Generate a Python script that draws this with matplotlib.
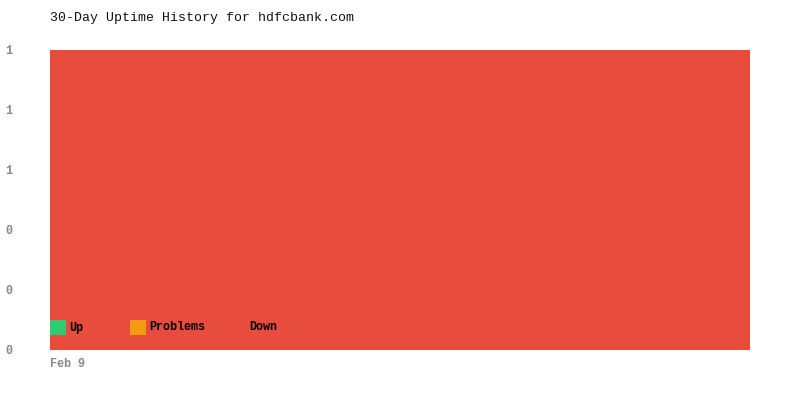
import datetime as dt
import matplotlib
matplotlib.use("Agg")
import matplotlib.pyplot as plt
from matplotlib.patches import Rectangle

# 30 days of status share per day
start_day = dt.date(2025, 2, 9)
n_days = 30
up = [0] * n_days
problems = [0] * n_days
down = [1] * n_days
series_names = ["Up", "Problems", "Down"]
series_colors = ["#2ecc71", "#f39c12", "#e74c3c"]
y_ticks = [0, 0.2, 0.4, 0.6, 0.8, 1.0]

plt.rcParams['font.family'] = ['Liberation Mono', 'DejaVu Sans Mono']

fig = plt.figure(figsize=(8, 4), dpi=100)
ax = fig.add_axes([50 / 800, 50 / 400, 700 / 800, 300 / 400])

days = list(range(n_days))
bottom = [0] * n_days
for vals, color in zip([up, problems, down], series_colors):
    ax.bar(days, vals, width=1.0, align='edge', bottom=bottom, color=color,
           linewidth=0, zorder=2)
    bottom = [b + v for b, v in zip(bottom, vals)]

ax.set_xlim(0, n_days)
ax.set_ylim(0, 1)
ax.set_yticks(y_ticks)
ax.set_yticklabels([f"{v:.0f}" for v in y_ticks])
ax.set_xticks([0])
ax.set_xticklabels([start_day.strftime("%b ") + str(start_day.day)])
for lab in ax.get_xticklabels():
    lab.set_horizontalalignment('left')
ax.tick_params(axis='both', length=0, colors='#888888', labelsize=8.5)
ax.tick_params(axis='y', pad=32)
for lab in ax.get_yticklabels():
    lab.set_horizontalalignment('left')
    lab.set_fontweight('bold')
for lab in ax.get_xticklabels():
    lab.set_fontweight('bold')
ax.tick_params(axis='x', pad=6)
for s in ax.spines.values():
    s.set_visible(False)
ax.grid(axis='y', color='#f4f4f4', linewidth=0.8, zorder=0)

# legend drawn inside the plot area, bottom left
leg_x = [0, 80 / 700, 180 / 700]
for x0, name, color in zip(leg_x, series_names, series_colors):
    ax.add_patch(Rectangle((x0, 15 / 300), 16 / 700, 15 / 300,
                           transform=ax.transAxes, color=color, zorder=3,
                           linewidth=0))
    ax.text(x0 + 19 / 700, 22.5 / 300, name, transform=ax.transAxes,
            fontsize=8.5, fontweight='bold', color='black', va='center',
            ha='left', zorder=4)

fig.text(50 / 800, 1 - 18 / 400, "30-Day Uptime History for hdfcbank.com",
         fontsize=9.5, color='#111111', ha='left', va='center')

fig.savefig("out.png", dpi=100)
